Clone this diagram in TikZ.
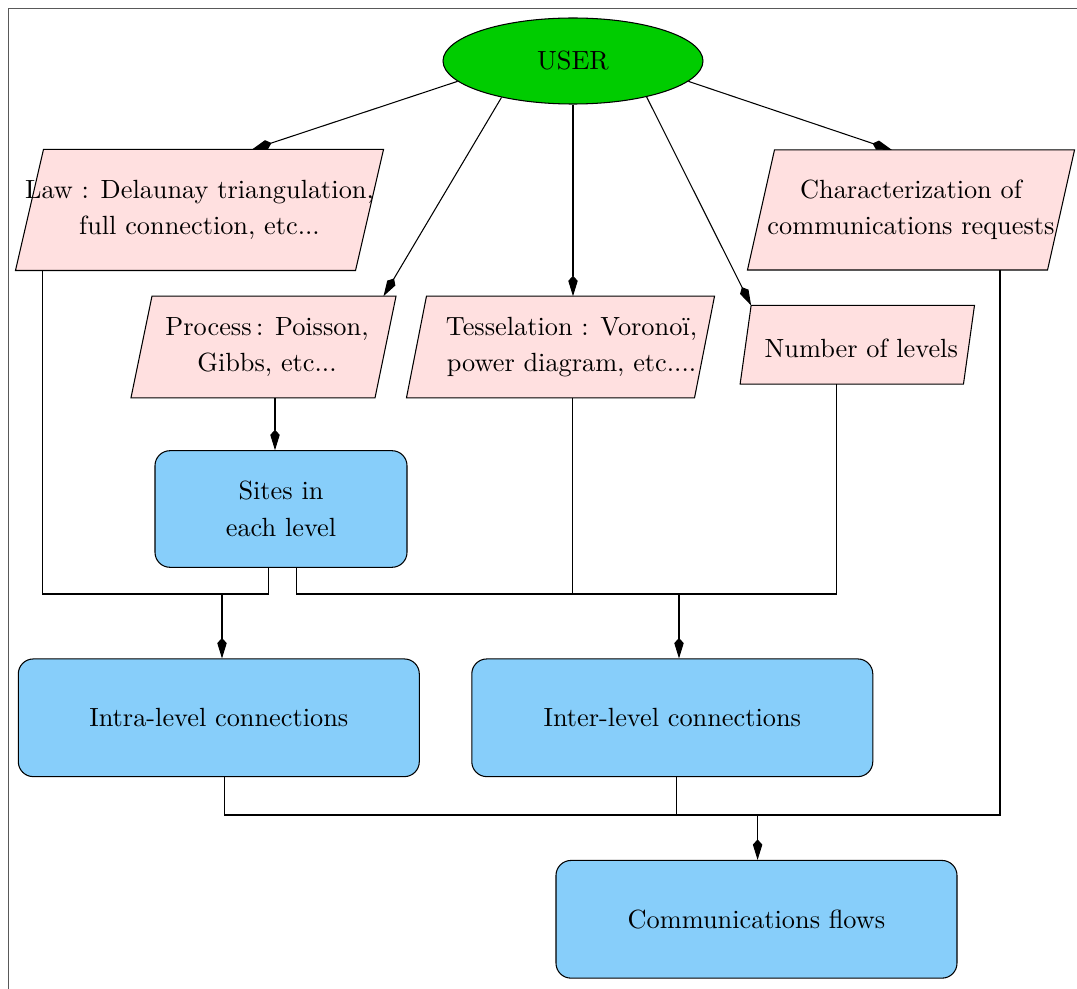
\documentclass[tikz,border=0pt]{standalone}
\usepackage{fontspec}
\usetikzlibrary{shapes.geometric, arrows.meta, calc, positioning, backgrounds}

\definecolor{usergreen}{RGB}{0,204,0}
\definecolor{parapink}{RGB}{255,224,224}
\definecolor{boxblue}{RGB}{135,206,250}
\newcommand{\pxu}{0.38pt}
% slanted box behind a para node: #1 node name, #2 slant, #3 #4 shift
\newcommand{\paraback}[4]{\draw[fill=parapink] ($(#1.north west)+(#2+#3,#4)$) -- ($(#1.north east)+(#3,#4)$) -- ($(#1.south east)+(-#2+#3,#4)$) -- ($(#1.south west)+(#3,#4)$) -- cycle;}

\tikzset{
  every node/.style={font=\linespread{1.15}\selectfont},
  userell/.style={ellipse, draw, fill=usergreen, minimum width={260*\pxu}, minimum height={86*\pxu}},
  para/.style={rectangle, align=center, inner sep=0pt},
  stepbox/.style={rectangle, rounded corners=5.7pt, draw, fill=boxblue, align=center, minimum width={401*\pxu}, minimum height={117.7*\pxu}},
  arrow/.style={-{Kite[length=7.8pt,width=3.6pt,inset=2pt]}},
}

\begin{document}
\begin{tikzpicture}[x=\pxu, y=-\pxu]
\useasboundingbox (0,0) rectangle (1077,989);
\draw[gray!70!black] (8.5,989) -- (8.5,8.5) -- (1077,8.5);

% top
\node[userell] (user) at (573,61) {USER};

% inputs
\node[para, minimum width={367*\pxu}, minimum height={120*\pxu}] (law) at (199.5,210) {Law : Delaunay triangulation,\\ full connection, etc...};
\node[para, minimum width={326*\pxu}, minimum height={119*\pxu}] (char) at (911,210) {Characterization of\\ communications requests};
\node[para, minimum width={264*\pxu}, minimum height={100.6*\pxu}] (proc) at (267,347) {Process\,: Poisson,\\ Gibbs, etc...};
\node[para, minimum width={307*\pxu}, minimum height={100.6*\pxu}] (tess) at (571.5,347) {Tesselation : Voronoï,\\ power diagram, etc....};
\node[para, minimum width={233.3*\pxu}, minimum height={77.6*\pxu}] (num) at (861.3,348.8) {Number of levels};
\begin{scope}[on background layer]
\paraback{law}{28}{0}{0}
\paraback{char}{27}{0}{0}
\paraback{proc}{21}{-3.5}{0}
\paraback{tess}{20}{-11}{0}
\paraback{num}{11}{-4}{-4}
\end{scope}

% steps
\node[stepbox, minimum width={252*\pxu}, minimum height={116.6*\pxu}] (sites) at (281,509) {Sites in\\ each level};
\node[stepbox] (intra) at (218.8,717.8) {Intra-level connections};
\node[stepbox] (inter) at (672.3,717.8) {Inter-level connections};
\node[stepbox] (comm) at (756.5,919.3) {Communications flows};

% junctions and stubs
\coordinate (ja) at (222,594);
\coordinate (jb) at (679,594);
\coordinate (jc) at (757.6,815);
\coordinate (lawout) at ($(law.south west)+(27,0)$);
\coordinate (sitesa) at ($(sites.south)+(-12.5,0)$);
\coordinate (sitesb) at ($(sites.south)+(15.8,0)$);
\coordinate (tessout) at ($(tess.south)+(1.2,0)$);
\coordinate (numout) at ($(num.south)+(-24.6,-4)$);
\coordinate (charout) at ($(char.south)+(89,0)$);
\coordinate (intraout) at ($(intra.south)+(6,0)$);
\coordinate (interout) at ($(inter.south)+(4,0)$);
\coordinate (procout) at ($(proc.south)+(8,0)$);

% user arrows
\draw[arrow] (user.190) -- ($(law.north)+(52.5,0)$);
\draw[arrow] (user.207) -- ($(proc.north east)+(-16,0)$);
\draw[arrow] (user.south) -- (user.south |- tess.north);
\draw[arrow] (user.334) -- ($(num.north west)+(7,-4)$);
\draw[arrow] (user.350) -- ($(char.north)+(-19,0)$);
\draw[arrow] (procout) -- (procout |- sites.north);

% to intra
\draw (lawout) |- (sitesa |- ja) -- (sitesa);
\draw[arrow] (ja) -- (ja |- intra.north);

% to inter
\draw (sitesb) |- (numout |- jb) -- (numout);
\draw (tessout) -- (tessout |- jb);
\draw[arrow] (jb) -- (jb |- inter.north);

% to comm
\draw (intraout) |- (charout |- jc) -- (charout);
\draw (interout) -- (interout |- jc);
\draw[arrow] (jc) -- (jc |- comm.north);
\end{tikzpicture}
\end{document}
